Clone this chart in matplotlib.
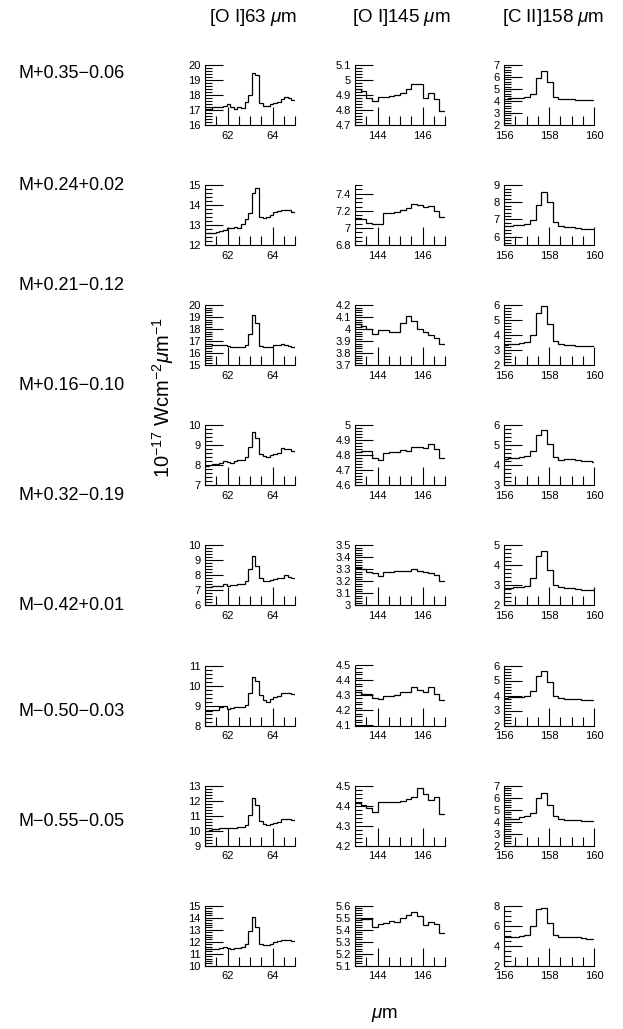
import numpy as np
import matplotlib
matplotlib.use('Agg')
import matplotlib.pyplot as plt
from matplotlib.ticker import MultipleLocator, FuncFormatter

plt.rcParams['font.family'] = ['Liberation Sans', 'DejaVu Sans']
plt.rcParams['mathtext.fontset'] = 'custom'
plt.rcParams['mathtext.rm'] = 'Liberation Sans'
plt.rcParams['mathtext.it'] = 'Liberation Sans:italic'

# ---------------- data ----------------
sources = ["M+0.35\u22120.06", "M+0.24+0.02", "M+0.21\u22120.12", "M+0.16\u22120.10",
           "M+0.32\u22120.19", "M\u22120.42+0.01", "M\u22120.50\u22120.03", "M\u22120.55\u22120.05"]
line_titles = ["[O I]63 $\\mu$m", "[O I]145 $\\mu$m", "[C II]158 $\\mu$m"]

# wavelength bin edges (micron) for each line
edges_oi63 = np.arange(26) * 0.16 + 61.0
edges_oi145 = np.arange(17) * 0.25 + 143.0
edges_cii158 = np.arange(18) * 0.25 + 155.91

# fluxes (1e-17 W cm-2 um-1), one list per source
oi63 = [
    [17.05, 17.1, 17.2, 17.2, 17.2, 17.25, 17.4, 17.2, 17.1, 17.2, 17.15, 17.55, 18.0, 19.45, 19.35, 17.5, 17.3, 17.25, 17.4, 17.5, 17.55, 17.75, 17.9, 17.8, 17.65],
    [12.6, 12.62, 12.6, 12.65, 12.7, 12.78, 12.85, 12.88, 12.9, 12.85, 13.05, 13.3, 13.6, 14.6, 14.85, 13.4, 13.35, 13.4, 13.5, 13.65, 13.72, 13.75, 13.78, 13.75, 13.65],
    [16.75, 16.75, 16.7, 16.7, 16.65, 16.7, 16.6, 16.55, 16.55, 16.5, 16.55, 16.7, 17.6, 19.2, 18.5, 16.6, 16.5, 16.5, 16.55, 16.65, 16.7, 16.75, 16.7, 16.6, 16.5],
    [7.97, 8.0, 8.05, 8.07, 8.1, 8.22, 8.15, 8.12, 8.2, 8.27, 8.25, 8.4, 8.9, 9.65, 9.35, 8.55, 8.45, 8.42, 8.5, 8.58, 8.62, 8.85, 8.82, 8.8, 8.72],
    [7.2, 7.25, 7.27, 7.3, 7.3, 7.4, 7.3, 7.35, 7.37, 7.4, 7.45, 7.65, 8.4, 9.3, 8.65, 7.8, 7.65, 7.6, 7.7, 7.75, 7.8, 7.85, 8.0, 7.88, 7.85],
    [8.75, 8.72, 8.8, 8.78, 8.95, 8.97, 8.85, 8.87, 8.93, 8.95, 8.95, 9.03, 9.62, 10.42, 10.25, 9.53, 9.28, 9.2, 9.32, 9.45, 9.47, 9.62, 9.65, 9.65, 9.6],
    [10.0, 10.05, 10.08, 10.1, 10.2, 10.2, 10.15, 10.18, 10.2, 10.22, 10.25, 10.35, 11.05, 12.15, 11.7, 10.65, 10.45, 10.4, 10.45, 10.52, 10.6, 10.75, 10.8, 10.78, 10.7],
    [11.4, 11.38, 11.42, 11.4, 11.45, 11.6, 11.45, 11.4, 11.5, 11.45, 11.55, 11.85, 12.9, 14.1, 13.2, 11.8, 11.72, 11.75, 11.85, 11.95, 12.05, 12.12, 12.15, 12.12, 12.08],
]
oi145 = [
    [4.94, 4.93, 4.88, 4.86, 4.885, 4.89, 4.895, 4.9, 4.915, 4.94, 4.975, 4.97, 4.88, 4.91, 4.87, 4.79],
    [7.12, 7.11, 7.06, 7.05, 7.05, 7.17, 7.18, 7.19, 7.21, 7.23, 7.28, 7.27, 7.24, 7.26, 7.2, 7.13],
    [4.04, 4.03, 4.0, 3.96, 3.99, 3.995, 3.975, 3.98, 4.05, 4.11, 4.07, 4.0, 3.98, 3.95, 3.93, 3.88],
    [4.82, 4.83, 4.83, 4.78, 4.77, 4.815, 4.82, 4.825, 4.835, 4.828, 4.855, 4.855, 4.85, 4.875, 4.84, 4.78],
    [3.31, 3.3, 3.28, 3.27, 3.245, 3.275, 3.28, 3.29, 3.29, 3.285, 3.305, 3.29, 3.275, 3.27, 3.25, 3.2],
    [4.32, 4.31, 4.31, 4.28, 4.275, 4.295, 4.3, 4.305, 4.325, 4.325, 4.355, 4.335, 4.325, 4.355, 4.31, 4.27],
    [4.415, 4.405, 4.39, 4.37, 4.42, 4.42, 4.42, 4.42, 4.425, 4.435, 4.445, 4.49, 4.46, 4.43, 4.445, 4.36],
    [5.495, 5.49, 5.485, 5.425, 5.45, 5.455, 5.475, 5.46, 5.495, 5.52, 5.545, 5.51, 5.44, 5.46, 5.45, 5.375],
]
cii158 = [
    [4.2, 4.22, 4.25, 4.28, 4.35, 4.6, 5.9, 6.5, 5.55, 4.35, 4.2, 4.15, 4.15, 4.1, 4.1, 4.05, 4.05],
    [6.6, 6.62, 6.65, 6.7, 6.76, 6.96, 7.83, 8.6, 8.03, 6.86, 6.6, 6.57, 6.55, 6.5, 6.45, 6.43, 6.42],
    [3.38, 3.4, 3.42, 3.45, 3.55, 4.0, 5.45, 5.95, 4.75, 3.6, 3.4, 3.35, 3.35, 3.3, 3.25, 3.25, 3.25],
    [4.33, 4.35, 4.37, 4.4, 4.45, 4.72, 5.5, 5.75, 5.05, 4.4, 4.28, 4.3, 4.32, 4.27, 4.23, 4.22, 4.18],
    [2.85, 2.87, 2.9, 2.92, 2.95, 3.35, 4.45, 4.72, 3.75, 3.0, 2.9, 2.88, 2.85, 2.82, 2.78, 2.77, 2.76],
    [3.85, 3.88, 3.9, 3.93, 3.97, 4.28, 5.3, 5.65, 4.92, 3.98, 3.82, 3.8, 3.8, 3.77, 3.73, 3.72, 3.7],
    [4.2, 4.22, 4.25, 4.35, 4.45, 4.7, 6.0, 6.35, 5.35, 4.45, 4.2, 4.15, 4.15, 4.12, 4.08, 4.05, 4.05],
    [4.85, 4.88, 4.9, 5.0, 5.1, 5.95, 7.7, 7.8, 6.25, 5.1, 4.9, 4.88, 4.85, 4.82, 4.75, 4.7, 4.68],
]

# axis ranges and tick steps
xlims = [(61.0, 65.0), (143.0, 147.0), (156.0, 160.0)]
ylims_oi63 = [(16, 20), (12, 15), (15, 20), (7, 10), (6, 10), (8, 11), (9, 13), (10, 15)]
ylims_oi145 = [(4.7, 5.1), (6.8, 7.5), (3.7, 4.2), (4.6, 5.0), (3.0, 3.5), (4.1, 4.5), (4.2, 4.5), (5.1, 5.6)]
ylims_cii158 = [(2, 7), (5.5, 9), (2, 6), (3, 6), (2, 5), (2, 6), (2, 7), (2, 8)]
ymaj_oi145 = [0.1, 0.2, 0.1, 0.1, 0.1, 0.1, 0.1, 0.1]
ymaj_cii158 = [1, 1, 1, 1, 1, 1, 1, 2]

# ---------------- layout ----------------
W, H = 623, 1029
fig = plt.figure(figsize=(W / 100, H / 100), dpi=100)

col_left = [205, 355, 504]
ax_w, ax_h = 90, 60
row_top0, row_step = 65, 120.1

fmt = FuncFormatter(lambda v, p: '%g' % round(v, 4))


def minor_for(step):
    m = '%g' % step
    if m.lstrip('0.').startswith('2'):
        return step / 4.0
    return step / 5.0


columns = [
    (edges_oi63, oi63, ylims_oi63, [1] * 8),
    (edges_oi145, oi145, ylims_oi145, ymaj_oi145),
    (edges_cii158, cii158, ylims_cii158, ymaj_cii158),
]

lw = 0.9
for r in range(8):
    top = row_top0 + row_step * r
    for c, (edges, vals, ylims, ymaj) in enumerate(columns):
        ax = fig.add_axes([col_left[c] / W, 1 - (top + ax_h) / H, ax_w / W, ax_h / H])
        ax.stairs(vals[r], edges, baseline=None, color='black', linewidth=lw)
        ax.set_xlim(*xlims[c])
        ax.set_ylim(*ylims[r])
        for s in ('top', 'right'):
            ax.spines[s].set_visible(False)
        for s in ('left', 'bottom'):
            ax.spines[s].set_linewidth(0.8)
        ax.xaxis.set_major_locator(MultipleLocator(2))
        ax.xaxis.set_minor_locator(MultipleLocator(0.5))
        ax.yaxis.set_major_locator(MultipleLocator(ymaj[r]))
        ax.yaxis.set_minor_locator(MultipleLocator(minor_for(ymaj[r])))
        ax.xaxis.set_major_formatter(fmt)
        ax.yaxis.set_major_formatter(fmt)
        ax.tick_params(which='both', direction='in', top=False, right=False,
                       width=0.8, labelsize=8, colors='black')
        ax.tick_params(axis='x', which='major', length=13, pad=4)
        ax.tick_params(axis='x', which='minor', length=6.5)
        ax.tick_params(axis='y', which='major', length=13, pad=3)
        ax.tick_params(axis='y', which='minor', length=5)
        ax.patch.set_visible(False)

# column titles
title_x = [253, 401, 553]
for c in range(3):
    fig.text(title_x[c] / W, 1 - 18 / H, line_titles[c], ha='center', va='center', fontsize=13.5)

# source labels
label_y = [73, 185, 285, 385, 495, 605, 712, 822]
for r in range(8):
    fig.text(18 / W, 1 - label_y[r] / H, sources[r], ha='left', va='center', fontsize=13)

# axis labels
fig.text(163 / W, 1 - 398 / H, '10$^{-17}$ Wcm$^{-2}$$\\mu$m$^{-1}$', rotation=90,
         ha='center', va='center', fontsize=14.5)
fig.text(385 / W, 1 - 1015 / H, '$\\mu$m', ha='center', va='center', fontsize=13.5)

fig.savefig('out.png', dpi=100)
